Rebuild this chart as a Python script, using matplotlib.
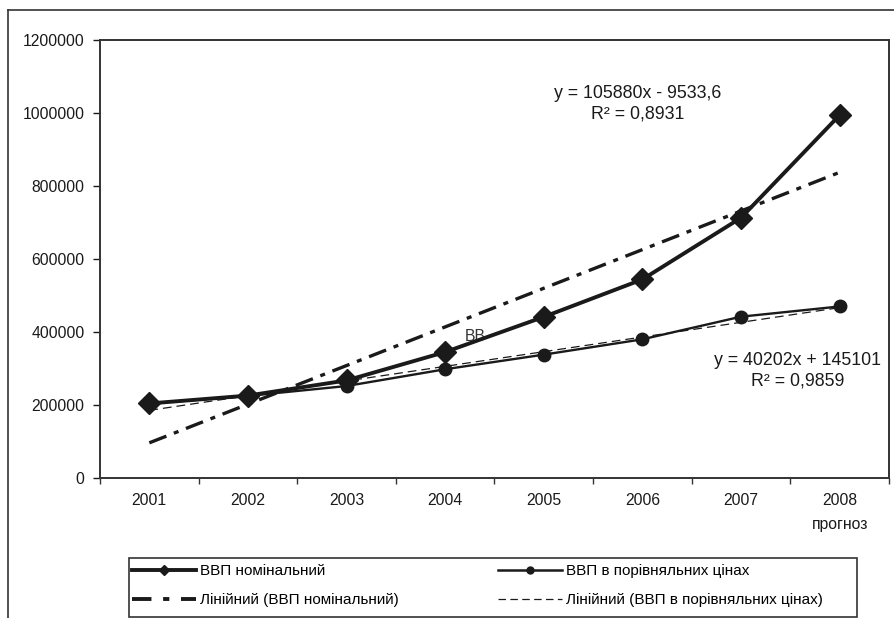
import numpy as np
import matplotlib
matplotlib.use("Agg")
import matplotlib.pyplot as plt
from matplotlib.lines import Line2D
from matplotlib.patches import Rectangle
from matplotlib.ticker import FixedLocator

plt.rcParams['font.family'] = ['Liberation Sans', 'DejaVu Sans']

# дані
years = ['2001', '2002', '2003', '2004', '2005', '2006', '2007', '2008\nпрогноз']
vvp_nominal = [204190, 225810, 267344, 345113, 441452, 544153, 712945, 994403]
vvp_real = [204190, 225000, 252000, 298000, 338000, 380000, 442000, 470000]
# коефіцієнти лінійних трендів (з підписів на графіку)
trend_nom = (105880, -9533.6)
trend_real = (40202, 145101)
eq_nom = 'y = 105880x - 9533,6\nR² = 0,8931'
eq_real = 'y = 40202x + 145101\nR² = 0,9859'

ink = '#1a1a1a'
W, H = 895, 618
fig = plt.figure(figsize=(W / 100, H / 100), dpi=100)
ax = fig.add_axes([100 / W, 1 - 478 / H, 789 / W, 438 / H])

x = np.arange(len(years))
t = x + 1
ax.plot(x, trend_nom[0] * t + trend_nom[1], color=ink, lw=2.4,
        linestyle=(0, (5.5, 2.4, 1.5, 2.4)), zorder=2)
ax.plot(x, trend_real[0] * t + trend_real[1], color=ink, lw=0.9,
        linestyle=(0, (7, 4)), zorder=2)
ax.plot(x, vvp_real, color=ink, lw=1.7, marker='o', markersize=9, zorder=3)
ax.plot(x, vvp_nominal, color=ink, lw=2.8, marker='D', markersize=11, zorder=4)

ax.text(3.3, 387000, 'ВВ', fontsize=11.3, color='#333333', ha='center', va='center',
        zorder=1)
ax.text(4.95, 1026000, eq_nom, fontsize=12.8, color=ink, ha='center', va='center',
        linespacing=1.3)
ax.text(6.57, 294000, eq_real, fontsize=12.8, color=ink, ha='center', va='center',
        linespacing=1.3)

ax.set_xlim(-0.5, 7.5)
ax.set_ylim(0, 1200000)
ax.set_yticks(np.arange(0, 1200001, 200000))
ax.set_yticklabels([str(v) for v in range(0, 1200001, 200000)])
ax.set_xticks(x)
ax.set_xticklabels(years, linespacing=1.75)
ax.xaxis.set_minor_locator(FixedLocator(np.arange(-0.5, 8, 1)))
ax.tick_params(axis='x', which='major', length=0, pad=11, labelsize=11.3, colors=ink)
ax.tick_params(axis='x', which='minor', length=4, width=1, color='#333333')
ax.tick_params(axis='y', length=5, width=1, pad=6, labelsize=11.3, colors=ink)
for s in ax.spines.values():
    s.set_color('#333333')
    s.set_linewidth(1.4)

# зовнішня рамка
fig.add_artist(Line2D([8 / W, 8 / W], [0, 1 - 10 / H], color='#333333', lw=1.2))
fig.add_artist(Line2D([8 / W, 1], [1 - 10 / H, 1 - 10 / H], color='#333333', lw=1.2))

# легенда
handles = [
    Line2D([], [], color=ink, lw=2.8, marker='D', markersize=5.5),
    Line2D([], [], color=ink, lw=2.8, linestyle=(0, (5, 3, 1.6, 3))),
    Line2D([], [], color=ink, lw=1.8, marker='o', markersize=5),
    Line2D([], [], color=ink, lw=0.9, linestyle=(0, (6, 3.5))),
]
labels = ['ВВП номінальний', 'Лінійний (ВВП номінальний)',
          'ВВП в порівняльних цінах', 'Лінійний (ВВП в порівняльних цінах)']
fig.legend(handles, labels, ncol=2, loc='upper left', frameon=False,
           bbox_to_anchor=(126 / W, 1 - 558 / H), fontsize=11,
           handlelength=4.2, handletextpad=0.25, columnspacing=6.5,
           labelspacing=1.0, borderaxespad=0)
fig.add_artist(Rectangle((129 / W, 1 - 617 / H), (857 - 129) / W, (617 - 558) / H,
                         transform=fig.transFigure, fill=False,
                         edgecolor='#333333', lw=1.2))

fig.savefig('out.png', dpi=100)
